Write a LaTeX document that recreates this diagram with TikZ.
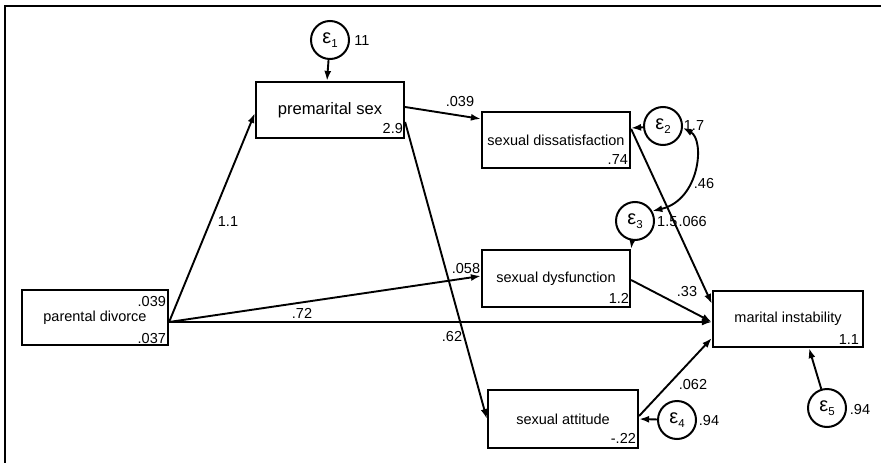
\documentclass[tikz,border=0pt]{standalone}
\usepackage{fontspec}
\setmainfont{Liberation Sans}
\usetikzlibrary{arrows.meta}
\newcommand{\eps}[1]{\fontsize{20}{20}\selectfont ε\raisebox{-0.2em}{\fontsize{11.5}{11.5}\selectfont #1}}
\begin{document}
\begin{tikzpicture}[x=1pt,y=-1pt,
  every node/.style={font=\fontsize{14.5}{16}\selectfont},
  box/.style={draw, line width=2.2pt, inner sep=0pt},
  err/.style={draw, circle, line width=2pt, minimum size=38pt, inner sep=0pt},
  num/.style={inner sep=0pt},
  path/.style={line width=1.9pt, -{Latex[length=10pt,width=7pt]}},
  covpath/.style={line width=1.9pt, {Latex[length=10pt,width=7pt]}-{Latex[length=10pt,width=7pt]}}]
\useasboundingbox (0,0) rectangle (881,463);

% outer frame (left and top edges)
\draw[line width=2.2pt] (5,463) -- (5,6) -- (881,6);

% observed variables
\node[box, minimum width=148pt, minimum height=56pt, font=\fontsize{16.6}{18}\selectfont] (PS) at (330,110) {premarital sex};
\node[box, minimum width=148pt, minimum height=56pt] (SDS) at (556,140) {sexual dissatisfaction};
\node[box, minimum width=148pt, minimum height=57pt] (SDF) at (556,278.5) {sexual dysfunction};
\node[box, minimum width=150pt, minimum height=58pt] (SA) at (563,419) {sexual attitude};
\node[box, minimum width=146pt, minimum height=55pt] (PD) at (95,317.5) {parental divorce};
\node[box, minimum width=150pt, minimum height=56pt] (MI) at (788,319) {marital instability};

% intercepts and variances inside the boxes
\node[num, anchor=base east] (n1) at ([xshift=-2pt,yshift=6pt]PS.south east) {2.9};
\node[num, anchor=base east] (n2) at ([xshift=-3pt,yshift=5pt]SDS.south east) {.74};
\node[num, anchor=base east] (n3) at ([xshift=-2pt,yshift=5pt]SDF.south east) {1.2};
\node[num, anchor=base east] (n4) at ([xshift=-3pt,yshift=6pt]SA.south east) {-.22};
\node[num, anchor=base east] (n5) at ([xshift=-5pt,yshift=4pt]MI.south east) {1.1};
\node[num, anchor=north east] (n6) at ([xshift=-3pt,yshift=-7pt]PD.north east) {.039};
\node[num, anchor=base east] (n7) at ([xshift=-3pt,yshift=3pt]PD.south east) {.037};

% error terms
\node[err] (e1) at (330,40) {\eps{1}};
\node[err] (e2) at (663,126) {\eps{2}};
\node[err] (e3) at (635,221) {\eps{3}};
\node[err] (e4) at (677,420) {\eps{4}};
\node[err] (e5) at (827,408) {\eps{5}};

% error variances
\node[num] (v1) at (362,41) {11};
\node[num] (v2) at (694,126) {1.7};
\node[num, anchor=west] (v3) at (657,222) {1.5};
\node[num] (v4) at (709,421) {.94};
\node[num] (v5) at (860,410) {.94};

% structural paths
\draw[path] ([yshift=-4.5pt]PD.east) -- ([yshift=-3pt]PS.west);
\draw[path] ([yshift=-4.5pt]PD.east) -- ([yshift=2.5pt]SDF.west);
\draw[path] ([yshift=-4.5pt]PD.east) -- ([yshift=-3pt]MI.west);
\draw[path] ([yshift=3pt]PS.east) -- ([yshift=-8pt]SDS.north west);
\draw[path] ([yshift=-12pt]PS.east) -- (SA.west);
\draw[path] ([yshift=-18pt]SDS.north east) -- ([yshift=-14pt]MI.north west);
\draw[path] ([yshift=-1.5pt]SDF.east) -- ([yshift=-3pt]MI.west);
\draw[path] ([yshift=3pt]SA.east) -- ([yshift=-19pt]MI.west);

% error paths
\draw[path] (e1) -- ([xshift=-3pt]PS.north);
\draw[path] (e2) -- ([yshift=12pt]SDS.east);
\draw[path] (e3) -- (SDF.north east);
\draw[path] (e4) -- (SA.east);
\draw[path] (e5) -- ([xshift=21pt]MI.south);

% error covariance
\draw[covpath] (e2.-5) .. controls (705,140) and (700,200) .. (e3.30);

% path coefficients
\node[num] (c1) at (228,222) {1.1};
\node[num] (c2) at (460,102) {.039};
\node[num] (c3) at (466,269) {.058};
\node[num] (c4) at (302,313) {.72};
\node[num] (c5) at (452,337) {.62};
\node[num, anchor=east] (c6) at (707,222) {.066};
\node[num] (c7) at (687,292) {.33};
\node[num] (c8) at (693,385) {.062};
\node[num] (c9) at (704,184) {.46};
\end{tikzpicture}
\end{document}
